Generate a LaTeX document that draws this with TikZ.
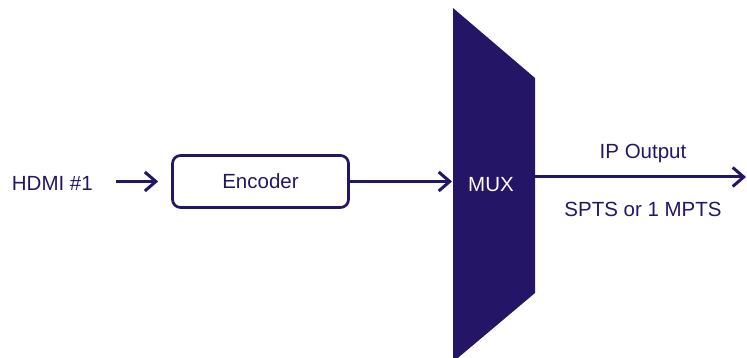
\documentclass[tikz,border=0pt]{standalone}
\usepackage{fontspec}
\setmainfont{Liberation Sans}
\usetikzlibrary{arrows.meta}
\definecolor{navy}{RGB}{36,21,102}
\begin{document}
\begin{tikzpicture}[x=1pt,y=-1pt,
  lbl/.style={text=navy,font=\fontsize{20.5}{24}\selectfont,inner sep=0pt},
  link/.style={draw=navy,line width=3pt,-{Straight Barb[length=11pt,width=19pt,line width=3pt]}},
  encbox/.style={draw=navy,line width=2.7pt,rounded corners=8pt,minimum width=176pt,minimum height=52pt,text=navy,font=\fontsize{20.5}{24}\selectfont}]
\useasboundingbox (0,0) rectangle (747,358);
% MUX shape
\fill[navy] (453,8) -- (535,78) -- (535,293) -- (453,362) -- cycle;
\node[lbl,text=white] (mux) at (491,185) {MUX};
\coordinate (muxin) at (452,181.5);
\coordinate (muxout) at (535,177);
\coordinate (outend) at (746,177);
\node[lbl,anchor=east] (hdmi) at (93,183) {HDMI \#1};
\node[encbox] (enc) at (260.5,181.5) {Encoder};
\draw[link,shorten <=23pt,shorten >=13pt] (hdmi.east|-enc.west) -- (enc.west);
\draw[link] (enc.east) -- (muxin);
\draw[link] (muxout) -- (outend);
\node[lbl] (ipo) at (643,153) {IP Output};
\node[lbl] (spts) at (643,209) {SPTS or 1 MPTS};
\end{tikzpicture}
\end{document}
